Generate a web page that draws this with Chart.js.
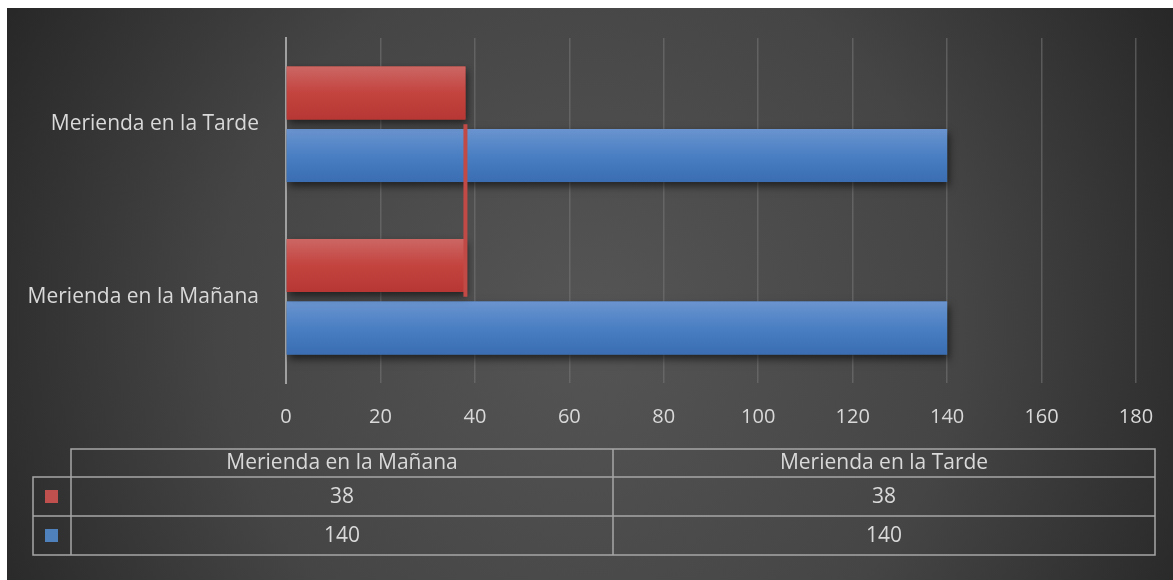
<!DOCTYPE html>
<html>
<head>
<meta charset="utf-8">
<script src="https://cdn.jsdelivr.net/npm/chart.js@4"></script>
<style>
  html, body { margin: 0; background: #fff; }
  #wrap { position: absolute; left: 7px; top: 8px; width: 1166px; height: 572px; }
</style>
</head>
<body>
<div id="wrap"><canvas id="chart"></canvas></div>
<script>
const categories = ["Merienda en la Mañana", "Merienda en la Tarde"];
const redValues = [38, 38];
const blueValues = [140, 140];
const xMin = 0, xMax = 180, xStep = 20;

const FONT = '"Open Sans", Lato, sans-serif';
const TEXT = '#d9d9d9';

// dark radial backdrop behind everything
const backdrop = {
    id: 'backdrop',
    beforeDraw(chart) {
        const c = chart.ctx, w = chart.width, h = chart.height;
        const g = c.createRadialGradient(w * 0.5, h * 0.55, 0, w * 0.5, h * 0.55, w * 0.58);
        g.addColorStop(0, '#555555');
        g.addColorStop(0.55, '#454545');
        g.addColorStop(1, '#262626');
        c.save();
        c.fillStyle = g;
        c.fillRect(0, 0, w, h);
        c.restore();
    }
};

// drop shadow under bars, then a vertical gradient on each bar
const barStyle = {
    id: 'barStyle',
    beforeDatasetDraw(chart, args) {
        if (args.meta.type !== 'bar') return;
        const c = chart.ctx;
        c.save();
        c.shadowColor = 'rgba(0,0,0,0.6)';
        c.shadowBlur = 8;
        c.shadowOffsetX = 2;
        c.shadowOffsetY = 4;
    },
    afterDatasetDraw(chart, args) {
        if (args.meta.type !== 'bar') return;
        const c = chart.ctx;
        c.restore();
        const stops = chart.data.datasets[args.index].gradient;
        args.meta.data.forEach(bar => {
            const { x, y, base, height } = bar.getProps(['x', 'y', 'base', 'height'], true);
            const top = y - height / 2;
            const g = c.createLinearGradient(0, top, 0, top + height);
            g.addColorStop(0, stops[0]);
            g.addColorStop(0.5, stops[1]);
            g.addColorStop(1, stops[2]);
            c.fillStyle = g;
            c.fillRect(base, top, x - base, height);
        });
    }
};

// data table under the axis
const dataTable = {
    id: 'dataTable',
    afterDraw(chart) {
        const c = chart.ctx;
        const left = 26, keyRight = 64, right = 1148;
        const rowY = [441, 469, 508, 547];
        const mid = (keyRight + right) / 2;
        const colCenter = [(keyRight + mid) / 2, (mid + right) / 2];
        const rows = [
            { values: redValues, color: '#c0504d' },
            { values: blueValues, color: '#4f81bd' }
        ];

        c.save();
        c.strokeStyle = '#a6a6a6';
        c.lineWidth = 1.5;
        c.beginPath();
        c.rect(keyRight, rowY[0], right - keyRight, rowY[3] - rowY[0]);
        c.rect(left, rowY[1], keyRight - left, rowY[3] - rowY[1]);
        c.moveTo(left, rowY[2]); c.lineTo(right, rowY[2]);
        c.moveTo(keyRight, rowY[1]); c.lineTo(right, rowY[1]);
        c.moveTo(mid, rowY[0]); c.lineTo(mid, rowY[3]);
        c.stroke();

        c.fillStyle = TEXT;
        c.font = '21px ' + FONT;
        c.textAlign = 'center';
        c.textBaseline = 'middle';
        categories.forEach((cat, i) => c.fillText(cat, colCenter[i], (rowY[0] + rowY[1]) / 2));
        rows.forEach((row, r) => {
            const cy = (rowY[r + 1] + rowY[r + 2]) / 2;
            c.fillStyle = row.color;
            c.fillRect(38, cy - 6.5, 13, 13);
            c.fillStyle = TEXT;
            row.values.forEach((v, i) => c.fillText(String(v), colCenter[i], cy + 1));
        });
        c.restore();
    }
};

new Chart(document.getElementById('chart'), {
    type: 'bar',
    data: {
        labels: categories,
        datasets: [
            {
                type: 'line',
                indexAxis: 'y',
                data: redValues,
                borderColor: '#c24a46',
                borderWidth: 4,
                pointRadius: 0,
                tension: 0,
                order: 0
            },
            {
                data: redValues,
                backgroundColor: '#c4443f',
                gradient: ['#cc6764', '#c3433f', '#b63733'],
                order: 1
            },
            {
                data: blueValues,
                backgroundColor: '#4a7fc3',
                gradient: ['#6a94cf', '#4a7fc3', '#3a6db1'],
                order: 1
            }
        ]
    },
    options: {
        indexAxis: 'y',
        responsive: true,
        maintainAspectRatio: false,
        animation: false,
        categoryPercentage: 0.725,
        barPercentage: 0.848,
        layout: { padding: { top: 30, right: 37, left: 0, bottom: 0 } },
        plugins: { legend: { display: false }, tooltip: { enabled: false } },
        scales: {
            x: {
                min: xMin,
                max: xMax,
                ticks: { stepSize: xStep, color: TEXT, font: { family: FONT, size: 20 }, padding: 22 },
                grid: { color: 'rgba(120,120,120,0.55)', lineWidth: 1.5, drawTicks: false },
                border: { display: false },
                afterFit: s => { s.height = 197; s.paddingLeft = 0; s.paddingRight = 0; }
            },
            y: {
                reverse: true,
                ticks: { color: TEXT, font: { family: FONT, size: 21 }, padding: 27 },
                grid: { display: false, drawTicks: false },
                border: { color: '#a0a0a0', width: 2 },
                afterFit: s => { s.width = 279; s.paddingTop = 0; s.paddingBottom = 0; }
            }
        }
    },
    plugins: [backdrop, barStyle, dataTable]
});
</script>
</body>
</html>
